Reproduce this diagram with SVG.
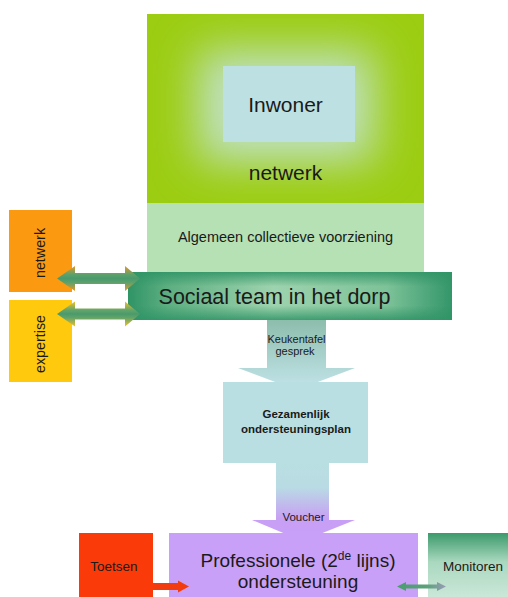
<svg xmlns="http://www.w3.org/2000/svg" width="508" height="597" viewBox="0 0 508 597">
  <style>
    text { font-family: "Liberation Sans", Arial, sans-serif; fill: #1a1a1a; }
    .c { text-anchor: middle; }
  </style>
  <defs>
    <filter id="blur" x="-50%" y="-50%" width="200%" height="200%">
      <feGaussianBlur stdDeviation="22"/>
    </filter>
    <clipPath id="frameClip"><rect x="147" y="14" width="277" height="189"/></clipPath>
    <linearGradient id="teamH" x1="0" y1="0" x2="1" y2="0">
      <stop offset="0" stop-color="#2f9466"/>
      <stop offset="0.12" stop-color="#5cae80"/>
      <stop offset="0.45" stop-color="#9dd3ae"/>
      <stop offset="0.8" stop-color="#7dc298"/>
      <stop offset="1" stop-color="#33966a"/>
    </linearGradient>
    <linearGradient id="teamV" x1="0" y1="0" x2="0" y2="1">
      <stop offset="0" stop-color="#2f9466" stop-opacity="0.85"/>
      <stop offset="0.3" stop-color="#2f9466" stop-opacity="0"/>
      <stop offset="0.7" stop-color="#2f9466" stop-opacity="0"/>
      <stop offset="1" stop-color="#2f9466" stop-opacity="0.85"/>
    </linearGradient>
    <linearGradient id="arrOrange" x1="0" y1="0" x2="0" y2="1">
      <stop offset="0" stop-color="#e7982c"/>
      <stop offset="0.35" stop-color="#5aa06c"/>
      <stop offset="0.5" stop-color="#4a9a6c"/>
      <stop offset="0.65" stop-color="#5aa06c"/>
      <stop offset="1" stop-color="#e7982c"/>
    </linearGradient>
    <linearGradient id="arrYellow" x1="0" y1="0" x2="0" y2="1">
      <stop offset="0" stop-color="#eec22a"/>
      <stop offset="0.35" stop-color="#62a46a"/>
      <stop offset="0.5" stop-color="#4a9a6c"/>
      <stop offset="0.65" stop-color="#62a46a"/>
      <stop offset="1" stop-color="#eec22a"/>
    </linearGradient>
    <linearGradient id="keuken" x1="0" y1="320" x2="0" y2="382" gradientUnits="userSpaceOnUse">
      <stop offset="0" stop-color="#8dbdac"/>
      <stop offset="1" stop-color="#bde0e3"/>
    </linearGradient>
    <linearGradient id="voucher" x1="0" y1="463" x2="0" y2="533" gradientUnits="userSpaceOnUse">
      <stop offset="0" stop-color="#b9dfe2"/>
      <stop offset="0.35" stop-color="#b9dbe4"/>
      <stop offset="0.8" stop-color="#c79ff4"/>
      <stop offset="1" stop-color="#c99ff7"/>
    </linearGradient>
    <linearGradient id="monitor" x1="0" y1="0" x2="0" y2="1">
      <stop offset="0" stop-color="#3b9a6b"/>
      <stop offset="0.45" stop-color="#a9d8bf"/>
      <stop offset="1" stop-color="#cbe7d8"/>
    </linearGradient>
    <linearGradient id="monArr" x1="0" y1="0" x2="1" y2="0">
      <stop offset="0" stop-color="#4a9d70"/>
      <stop offset="0.6" stop-color="#5aa27a"/>
      <stop offset="1" stop-color="#9a9ab8"/>
    </linearGradient>
  </defs>

  <g id="netwerk-frame">
    <rect x="147" y="14" width="277" height="189" fill="#9ccd12"/>
    <g clip-path="url(#frameClip)">
      <rect x="198" y="50" width="176" height="112" fill="#c0e1c2" filter="url(#blur)"/>
    </g>
    <text class="c" x="285.5" y="180" font-size="21">netwerk</text>
  </g>

  <g id="inwoner">
    <rect x="223" y="66" width="132" height="76" fill="#bde0e2"/>
    <text class="c" x="285.5" y="112" font-size="21">Inwoner</text>
  </g>

  <g id="algemeen">
    <rect x="147" y="203" width="277" height="69" fill="#b6e1b5"/>
    <text class="c" x="285.5" y="242" font-size="14.5">Algemeen collectieve voorziening</text>
  </g>

  <g id="netwerk-side">
    <rect x="9" y="210" width="63" height="82" fill="#fb9a10"/>
    <text class="c" transform="translate(45,253) rotate(-90)" font-size="14.3">netwerk</text>
  </g>

  <g id="expertise-side">
    <rect x="9" y="300" width="63" height="82" fill="#ffc90e"/>
    <text class="c" transform="translate(45,344) rotate(-90)" font-size="14.3">expertise</text>
  </g>

  <g id="sociaal-team">
    <rect x="128" y="272" width="324" height="48" fill="url(#teamH)"/>
    <rect x="128" y="272" width="324" height="48" fill="url(#teamV)"/>
    <text class="c" x="274.5" y="304" font-size="21.5">Sociaal team in het dorp</text>
  </g>

  <g id="gezamenlijk">
    <rect x="223" y="382" width="145" height="81" fill="#b9dfe2"/>
    <text class="c" x="296" y="418" font-size="11.5" font-weight="bold">Gezamenlijk</text>
    <text class="c" x="296" y="433" font-size="11.5" font-weight="bold">ondersteuningsplan</text>
  </g>

  <g id="professionele">
    <rect x="169" y="533" width="249" height="64" fill="#c9a0f7"/>
    <text class="c" x="298" y="567" font-size="19">Professionele (2<tspan font-size="12" dy="-7">de</tspan><tspan dy="7"> lijns)</tspan></text>
    <text class="c" x="298" y="588" font-size="19">ondersteuning</text>
  </g>

  <g id="toetsen">
    <rect x="79" y="533" width="74" height="64" fill="#fb3a0a"/>
    <text class="c" x="114" y="571" font-size="13.5">Toetsen</text>
  </g>

  <g id="monitoren">
    <rect x="428" y="533" width="80" height="64" fill="url(#monitor)"/>
    <text class="c" x="473" y="571" font-size="13.5">Monitoren</text>
  </g>

  <g id="connectors">
    <polygon points="57,278.5 75,266 75,273 125,273 125,266 140,278.5 125,291 125,284 75,284 75,291" fill="url(#arrOrange)"/>
    <polygon points="57,314 75,301.5 75,308.5 125,308.5 125,301.5 140,314 125,326.5 125,319.5 75,319.5 75,326.5" fill="url(#arrYellow)"/>
    <polygon points="267,320 326,320 326,368 355,368 317.8,382 275.2,382 238,368 267,368" fill="url(#keuken)"/>
    <text class="c" x="296.5" y="343" font-size="11">Keukentafel</text>
    <text class="c" x="295" y="355" font-size="11">gesprek</text>
    <polygon points="276,463 329,463 329,520 355,520 322.5,533 283.3,533 252,520 276,520" fill="url(#voucher)"/>
    <text class="c" x="303.5" y="521" font-size="11.5">Voucher</text>
    <polygon points="153,583 178,583 178,580.5 189,586.5 178,592.5 178,590 153,590" fill="#f23c10"/>
    <polygon points="397,586.5 406,582 406,584.5 437,584.5 437,582 446,586.5 437,591 437,588.5 406,588.5 406,591" fill="url(#monArr)"/>
  </g>
</svg>
